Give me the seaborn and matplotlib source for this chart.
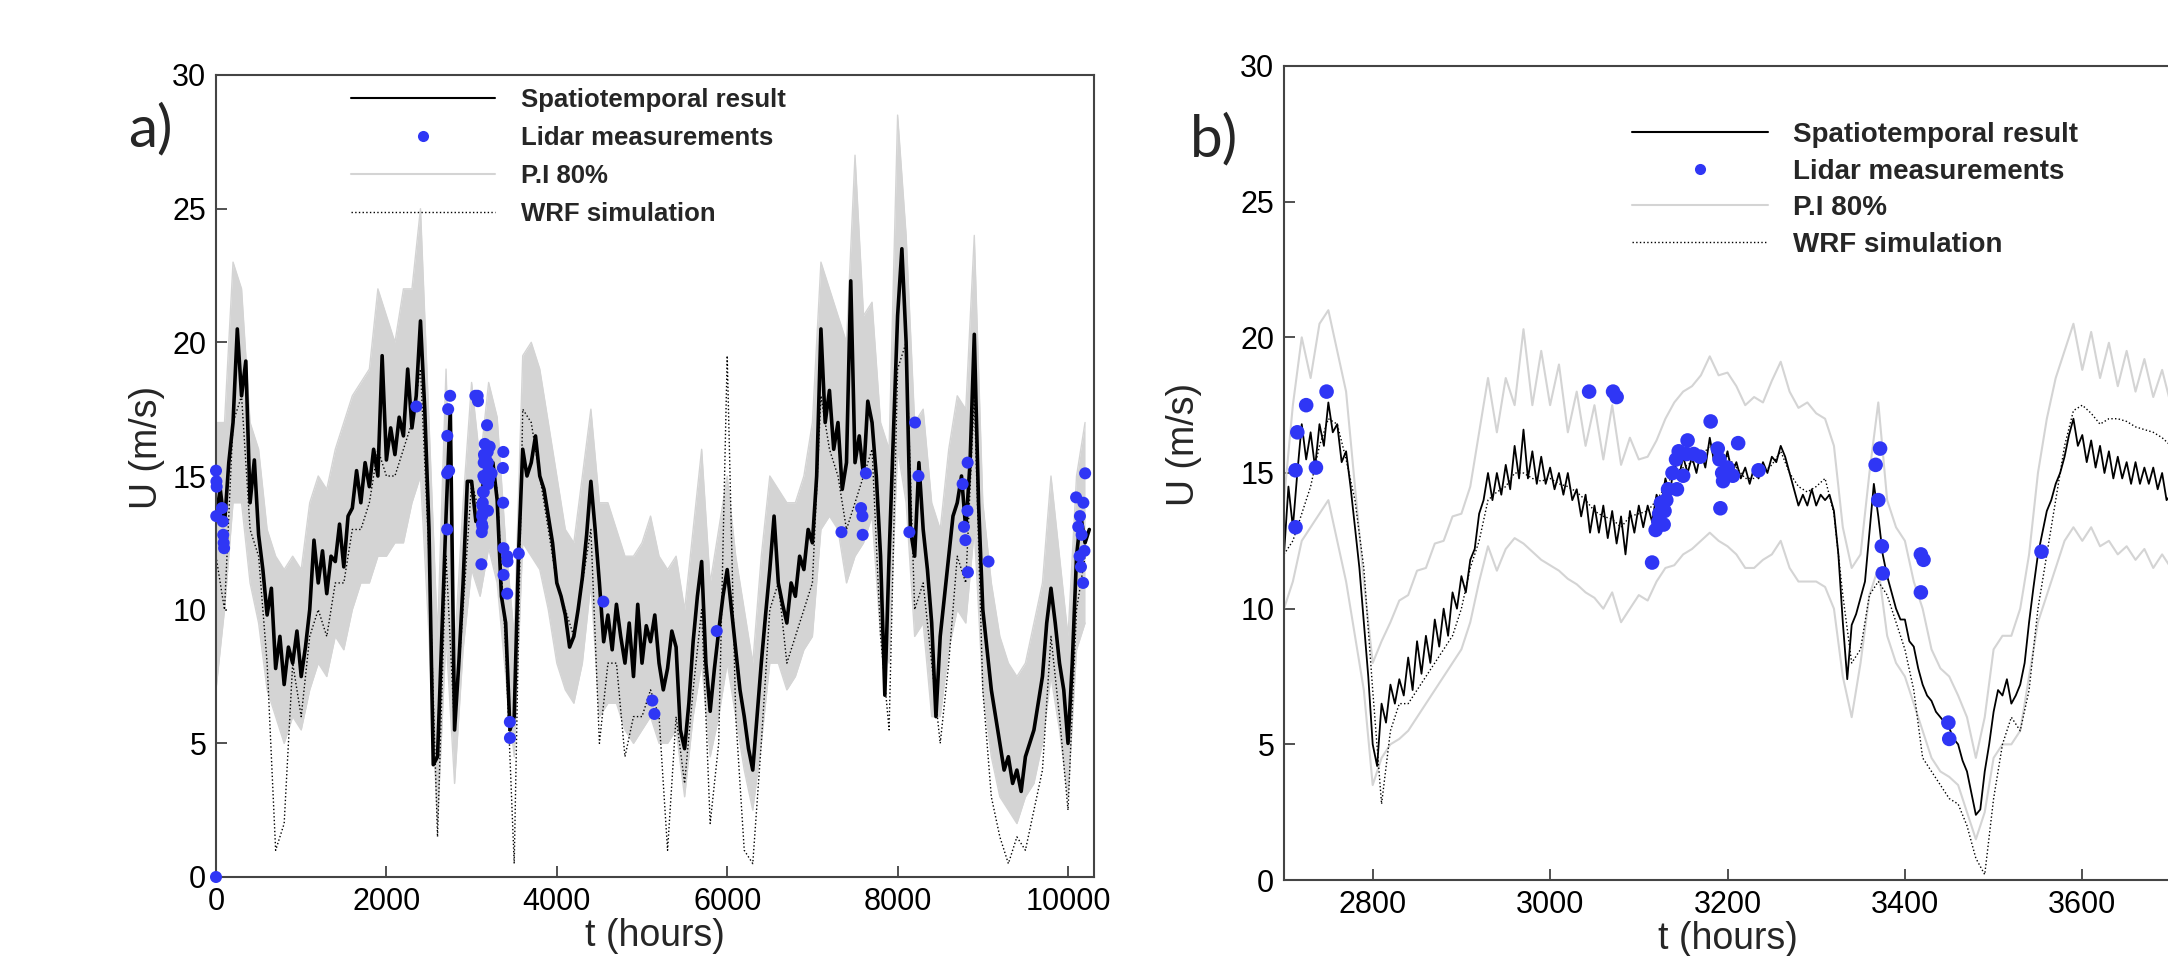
import numpy as np
import matplotlib
matplotlib.use("Agg")
import matplotlib.pyplot as plt
import seaborn as sns
from matplotlib.lines import Line2D

# ---- panel a): whole record ----
hours_a = np.arange(0, 10300, 50)        # spatiotemporal result, every 50 h
hours_a_coarse = np.arange(0, 10300, 100)  # P.I. and WRF, every 100 h

spatio_a = [
    13.5, 14.5, 13.2, 15.5, 17.0, 20.5, 18.0, 19.3, 14.0, 15.6,
    12.8, 11.5, 9.8, 10.8, 7.8, 9.0, 7.2, 8.6, 8.0, 9.2,
    7.5, 8.6, 10.0, 12.6, 11.0, 12.2, 10.6, 12.0, 11.8, 13.2,
    11.6, 13.5, 13.8, 15.2, 14.0, 15.5, 14.6, 16.0, 15.0, 19.5,
    15.6, 16.8, 15.8, 17.2, 16.5, 19.0, 16.8, 18.0, 20.8, 17.5,
    13.0, 4.2, 4.5, 9.0, 13.5, 17.5, 5.5, 8.0, 11.0, 14.8,
    14.8, 13.3, 13.5, 15.2, 15.5, 15.5, 14.1, 10.5, 9.5, 5.5,
    6.0, 12.0, 16.0, 15.0, 15.5, 16.5, 15.0, 14.5, 13.5, 12.5,
    11.0, 10.5, 9.8, 8.6, 9.0, 10.0, 11.2, 12.8, 14.8, 13.0,
    11.0, 8.8, 9.8, 8.5, 10.2, 9.0, 8.0, 9.5, 7.5, 10.2,
    8.0, 9.4, 8.8, 9.8, 8.0, 7.0, 7.8, 9.2, 8.6, 5.5,
    4.8, 6.5, 8.8, 10.5, 11.8, 8.0, 6.2, 7.8, 9.2, 10.5,
    11.5, 10.0, 8.5, 7.0, 6.0, 4.8, 4.0, 6.0, 8.0, 9.8,
    11.5, 13.5, 11.0, 10.2, 9.5, 11.0, 10.5, 12.0, 11.5, 13.0,
    12.5, 15.0, 20.5, 17.0, 18.2, 16.0, 17.0, 14.5, 15.5, 22.3,
    15.5, 16.5, 15.0, 17.8, 17.0, 15.0, 12.0, 6.8, 12.0, 16.5,
    21.0, 23.5, 20.0, 13.0, 12.0, 15.5, 13.0, 11.5, 9.5, 6.0,
    9.0, 10.5, 12.0, 13.5, 14.0, 15.0, 13.0, 15.5, 20.3, 14.0,
    10.0, 8.5, 7.0, 6.0, 5.0, 4.0, 4.5, 3.5, 4.0, 3.2,
    4.5, 5.0, 5.5, 6.5, 7.5, 9.5, 10.8, 9.5, 8.0, 7.0,
    5.0, 8.0, 12.0, 13.5, 12.5, 13.0,
]

pi_low_a = [
    7.0, 10, 14, 14, 11, 9.5, 7, 6, 5, 6,
    5.5, 7, 8, 7.5, 9, 8.5, 10, 11, 11, 12,
    12, 12.5, 12.5, 14, 15, 9, 2, 9, 3.5, 8.5,
    11.5, 10.5, 12.3, 11, 7.5, 4.5, 12.5, 12, 11.5, 10,
    8, 7, 6.5, 8, 11, 6, 6.5, 6.5, 5.5, 5,
    5.5, 6, 5, 5, 5.5, 3, 6, 8, 4.5, 6,
    8, 6, 4, 2.5, 5, 8, 8, 7, 7.5, 8.5,
    9, 13, 13.5, 13, 11, 12, 12.5, 13.5, 9, 8,
    16, 14, 9, 9.5, 6, 6, 8.5, 10, 9.5, 13,
    7, 4.5, 3, 2.5, 2, 3, 3.5, 5, 7.5, 5.5,
    3, 8.5, 9.5,
]

pi_high_a = [
    17, 17, 23, 22, 17, 16, 13, 12, 11.5, 12,
    11.5, 14, 15, 14.5, 16, 17, 18, 18.5, 19, 22,
    21, 20, 22, 22, 25, 17, 9, 19, 8.5, 14,
    18.5, 15.5, 18.5, 17.2, 12.5, 9, 19.5, 20, 19, 17,
    15, 13, 12.5, 15, 17.5, 14, 14, 13, 12, 12,
    12.5, 13.5, 12, 11.5, 12, 10, 13, 16, 11, 13,
    15, 12, 10, 8, 12, 15, 14.5, 14, 14, 15,
    17, 23, 22, 21, 20, 27, 21, 21.5, 17, 16,
    28.5, 24, 17, 17.5, 14, 13, 16, 18, 17.5, 24,
    14, 11, 9, 8, 7.5, 8, 9.5, 11, 15, 12,
    9, 15, 17,
]

wrf_a = [
    12, 10, 17, 18, 13, 12, 8, 1, 2, 8,
    6, 9, 10, 9, 11, 11, 13, 13, 14, 16,
    15, 15, 16, 17, 19, 12, 1.5, 12, 5.5, 10,
    14.8, 13.5, 15.6, 14.5, 8.5, 0.5, 17.5, 17, 15, 13,
    11, 10, 9, 11, 13, 5, 8, 8, 4.5, 6,
    6, 7, 6, 1, 6, 3.5, 7, 10, 2, 5,
    19.5, 6, 1, 0.5, 5, 10, 11, 8, 9, 10,
    11, 18, 16, 15, 13, 14, 15, 16, 9, 5.5,
    19, 20, 10, 11, 8, 5, 8, 12, 11, 18,
    7, 3, 1.5, 0.5, 1.5, 1, 2.5, 4, 9, 6,
    2.5, 10, 12,
]

# ---- panel b): zoom on 2700-3700 h ----
hours_b_fine = np.arange(2700, 3705, 5)
hours_b = np.arange(2700, 3710, 10)

spatio_b = [
    12.0, 14.5, 13.0, 15.0, 16.8, 15.5, 16.5, 15.2, 16.8, 16.0,
    17.6, 16.5, 16.8, 15.4, 15.8, 14.5, 13.0, 11.5, 9.5, 7.5,
    5.0, 4.2, 6.5, 5.8, 7.2, 6.5, 7.4, 6.8, 8.2, 7.0,
    8.8, 7.6, 9.0, 8.0, 9.6, 8.6, 10.0, 9.0, 10.6, 10.0,
    11.2, 10.6, 11.8, 12.2, 13.5, 14.0, 15.0, 14.0, 15.0, 14.2,
    15.3, 14.4, 16.0, 14.8, 16.6, 14.8, 15.8, 14.6, 15.6, 14.6,
    15.2, 14.4, 15.0, 14.2, 15.0, 14.0, 14.4, 13.4, 14.2, 12.8,
    13.8, 12.8, 13.8, 12.6, 13.6, 12.4, 13.4, 12.0, 13.6, 12.8,
    13.8, 13.0, 13.8, 13.2, 14.2, 13.8, 14.8, 14.2, 15.4, 14.8,
    15.6, 15.0, 15.6, 15.0, 15.8, 15.2, 16.3, 15.4, 15.8, 15.2,
    15.8, 15.0, 15.4, 14.8, 15.2, 14.6, 15.2, 14.8, 15.4, 15.0,
    15.6, 15.4, 16.0, 15.6, 15.0, 14.4, 13.8, 14.2, 13.8, 14.4,
    13.8, 14.2, 14.0, 14.2, 13.6, 12.0, 9.5, 7.4, 9.4, 9.8,
    10.4, 11.0, 12.8, 14.6, 13.4, 12.0, 11.2, 10.6, 10.0, 9.6,
    9.6, 8.8, 8.6, 7.8, 7.2, 6.8, 6.6, 6.2, 6.0, 5.8,
    5.6, 5.2, 5.0, 4.4, 4.0, 3.2, 2.4, 2.6, 4.0, 5.0,
    6.2, 7.0, 6.8, 7.4, 6.5, 6.8, 7.2, 8.0, 9.5, 10.8,
    12.0, 12.8, 13.6, 14.0, 14.6, 15.0, 15.6, 16.4, 17.0, 16.0,
    16.4, 15.4, 16.2, 15.2, 16.0, 15.0, 15.8, 14.8, 15.6, 14.8,
    15.4, 14.6, 15.4, 14.6, 15.2, 14.6, 15.2, 14.4, 15.0, 14.0,
    14.2,
]

pi_high_b = [
    14, 17.5, 20, 18.5, 20.5, 21, 19.5, 18, 14.5, 11,
    8, 8.8, 9.5, 10.3, 10.5, 11.4, 11.5, 12.4, 12.5, 13.4,
    13.5, 14.5, 16.5, 18.5, 16.5, 18.5, 17.5, 20.3, 17.5, 19.5,
    17.5, 19, 16.5, 18, 16, 17.5, 15.5, 17.5, 15.3, 16.3,
    15.5, 15.6, 16.2, 17, 17.6, 18, 18.2, 18.6, 19.3, 18.6,
    18.7, 18.2, 17.5, 17.8, 17.6, 18.4, 19.1, 18, 17.4, 17.6,
    17.2, 17, 16, 13, 11.5, 12, 15, 17.6, 14, 13,
    12.5, 11, 10, 8.5, 7.8, 7.5, 6.8, 6, 4.5, 6,
    8.5, 9, 9, 10, 12, 15, 17, 18.5, 19.5, 20.5,
    18.8, 20.2, 18.5, 19.8, 18.2, 19.5, 18, 19.2, 17.8, 18.8,
    17.5,
]

pi_low_b = [
    10, 11, 12.5, 13, 13.5, 14, 12.5, 11, 9, 7,
    3.5, 4.5, 5, 5.2, 5.5, 6, 6.5, 7, 7.5, 8,
    8.5, 9.5, 11, 12.3, 11.4, 12.2, 12.6, 12.4, 12.1, 11.8,
    11.6, 11.4, 11.1, 10.9, 10.6, 10.4, 10, 10.6, 9.5, 10,
    10.5, 10.3, 11, 11.5, 11.6, 12, 12.2, 12.5, 12.8, 12.5,
    12.3, 12, 11.5, 11.5, 11.8, 12, 12.5, 11.5, 11, 11,
    11, 10.8, 10, 7.5, 6, 8, 10.5, 11.5, 9, 8,
    7.5, 6.5, 5.5, 4.5, 4, 3.8, 3.5, 2.5, 1.5, 2.5,
    4.5, 5, 5, 5.5, 7.5, 9.5, 10.5, 11.5, 12.5, 13,
    12.5, 13, 12.3, 12.5, 12, 12.3, 11.8, 12.2, 11.5, 12,
    11.5,
]

wrf_b = [
    12, 12.5, 13.5, 14.5, 16, 17, 16.8, 15.5, 14, 11.5,
    7, 2.8, 5.5, 6.5, 6.5, 7, 7.5, 8, 8.5, 9,
    10, 11.5, 12.5, 14, 14.3, 14.5, 15, 15, 14.8, 14.7,
    14.8, 14.6, 14.5, 14.3, 14, 13.6, 13.4, 13.3, 13, 13.4,
    13.5, 13.6, 14, 14.5, 15, 15.2, 15.4, 15.6, 16, 15.8,
    15.6, 15.2, 14.8, 14.8, 15, 15.3, 15.8, 15, 14.5, 14.3,
    14.5, 14.8, 13.5, 10.5, 8, 8.5, 10.5, 11, 10.5, 9.5,
    8.5, 7, 4.5, 4, 3.5, 3, 2.8, 2, 0.8, 0.2,
    3, 5, 6, 5.5, 7, 10, 12, 14, 16, 17.3,
    17.5, 17.2, 16.8, 17, 17, 16.9, 16.7, 16.6, 16.5, 16.3,
    16,
]

# ---- lidar measurements (both panels) ----
lidar_t = [
    0, 0, 5, 8, 3, 70, 80, 85, 90, 95,
    2351, 2713, 2713, 2715, 2725, 2736, 2748, 3044, 3071, 3075,
    3115, 3119, 3122, 3123, 3125, 3128, 3129, 3131, 3133, 3138,
    3142, 3145, 3143, 3150, 3155, 3154, 3162, 3169, 3181, 3189,
    3191, 3192, 3194, 3195, 3200, 3206, 3212, 3235, 3367, 3372,
    3370, 3374, 3375, 3418, 3421, 3418, 3449, 3450, 3554, 4546,
    5121, 5146, 5877, 7341, 7571, 7587, 7590, 7628, 8138, 8204,
    8245, 8763, 8779, 8796, 8820, 8822, 8825, 9067, 10095, 10120,
    10136, 10152, 10177, 10160, 10180, 10201, 10140, 10193,
]
lidar_u = [
    0.0, 15.2, 14.8, 14.6, 13.5, 13.8, 13.3, 12.8, 12.5, 12.3,
    17.6, 13.0, 15.1, 16.5, 17.5, 15.2, 18.0, 18.0, 18.0, 17.8,
    11.7, 12.9, 13.2, 13.5, 13.9, 13.1, 13.6, 14.0, 14.4, 15.0,
    15.5, 15.8, 14.4, 14.9, 16.2, 15.7, 15.7, 15.6, 16.9, 15.9,
    15.5, 13.7, 15.0, 14.7, 15.2, 14.9, 16.1, 15.1, 15.3, 15.9,
    14.0, 12.3, 11.3, 12.0, 11.8, 10.6, 5.8, 5.2, 12.1, 10.3,
    6.6, 6.1, 9.2, 12.9, 13.8, 13.5, 12.8, 15.1, 12.9, 17.0,
    15.0, 14.7, 13.1, 12.6, 13.7, 15.5, 11.4, 11.8, 14.2, 13.1,
    12.0, 11.6, 11.0, 12.8, 14.0, 15.1, 13.5, 12.2,
]

labels = ["Spatiotemporal result", "Lidar measurements", "P.I 80%", "WRF simulation"]

W, H = 2168, 956
PI_GREY = "#d4d4d4"
BLUE = "#2f36f5"

sns.set_theme(style="white")
plt.rcParams["font.family"] = ["Liberation Sans", "DejaVu Sans"]

fig = plt.figure(figsize=(W / 100, H / 100), dpi=100)
ax_a = fig.add_axes([216 / W, 1 - 877 / H, 878 / W, 802 / H])
ax_b = fig.add_axes([1284 / W, 1 - 880 / H, 887 / W, 814 / H])

# panel a
ax_a.fill_between(hours_a_coarse, pi_low_a, pi_high_a, color=PI_GREY, lw=0)
sns.lineplot(x=hours_a_coarse, y=pi_high_a, ax=ax_a, color=PI_GREY, lw=1.0, estimator=None)
sns.lineplot(x=hours_a_coarse, y=pi_low_a, ax=ax_a, color=PI_GREY, lw=1.0, estimator=None)
sns.lineplot(x=hours_a_coarse, y=wrf_a, ax=ax_a, color="black", lw=1.0, ls=":", estimator=None)
sns.lineplot(x=hours_a, y=spatio_a, ax=ax_a, color="black", lw=2.6, estimator=None)
sns.scatterplot(x=lidar_t, y=lidar_u, ax=ax_a, color=BLUE, s=75, edgecolor="none",
                marker="o", clip_on=False, zorder=5)

# panel b
sns.lineplot(x=hours_b, y=pi_high_b, ax=ax_b, color=PI_GREY, lw=1.5, estimator=None)
sns.lineplot(x=hours_b, y=pi_low_b, ax=ax_b, color=PI_GREY, lw=1.5, estimator=None)
sns.lineplot(x=hours_b, y=wrf_b, ax=ax_b, color="black", lw=1.0, ls=":", estimator=None)
sns.lineplot(x=hours_b_fine, y=spatio_b, ax=ax_b, color="black", lw=1.3, estimator=None)
sns.scatterplot(x=lidar_t, y=lidar_u, ax=ax_b, color=BLUE, s=110, edgecolor="none",
                marker="o", zorder=5)

ax_a.set_xlim(0, 10305)
ax_a.set_xticks([0, 2000, 4000, 6000, 8000, 10000])
ax_b.set_xlim(2700, 3700)
ax_b.set_xticks([2800, 3000, 3200, 3400, 3600])

for ax in (ax_a, ax_b):
    ax.set_ylim(0, 30)
    ax.set_yticks([0, 5, 10, 15, 20, 25, 30])
    ax.tick_params(axis="both", direction="in", length=8, width=1.2, labelsize=22,
                   colors="#333333", labelcolor="black", bottom=True, left=True, pad=7)
    for sp in ax.spines.values():
        sp.set_color("#444444")
        sp.set_linewidth(1.5)
    ax.set_xlabel("t (hours)", fontsize=27, labelpad=1)
    ax.set_ylabel("U (m/s)", fontsize=27)
    ax.grid(False)

ax_a.yaxis.set_label_coords(-0.058, 0.535)
ax_b.yaxis.set_label_coords(-0.093, 0.535)

handles = [
    Line2D([], [], color="black", lw=1.5),
    Line2D([], [], color=BLUE, marker="o", ls="none", ms=8, mec="none"),
    Line2D([], [], color=PI_GREY, lw=1.5),
    Line2D([], [], color="black", lw=1.0, ls=":"),
]
leg_kw = dict(loc="upper left", frameon=False, borderpad=0, borderaxespad=0,
              handletextpad=0.9, bbox_transform=fig.transFigure)
ax_a.legend(handles, labels, bbox_to_anchor=(351 / W, 1 - 88 / H), labelspacing=0.55,
            handlelength=5.6, handletextpad=1.0,
            prop={"family": "Liberation Sans", "weight": "bold", "size": 18.5},
            **{k: v for k, v in leg_kw.items() if k != "handletextpad"})
ax_b.legend(handles, labels, bbox_to_anchor=(1632 / W, 1 - 122 / H), labelspacing=0.38,
            handlelength=4.9,
            prop={"family": "Liberation Sans", "weight": "bold", "size": 20}, **leg_kw)

fig.text(128 / W, 1 - 130 / H, "a)", fontsize=42, family=["Lato", "DejaVu Sans"], va="center")
fig.text(1190 / W, 1 - 140 / H, "b)", fontsize=42, family=["Lato", "DejaVu Sans"], va="center")

fig.savefig("out.png", dpi=100)
